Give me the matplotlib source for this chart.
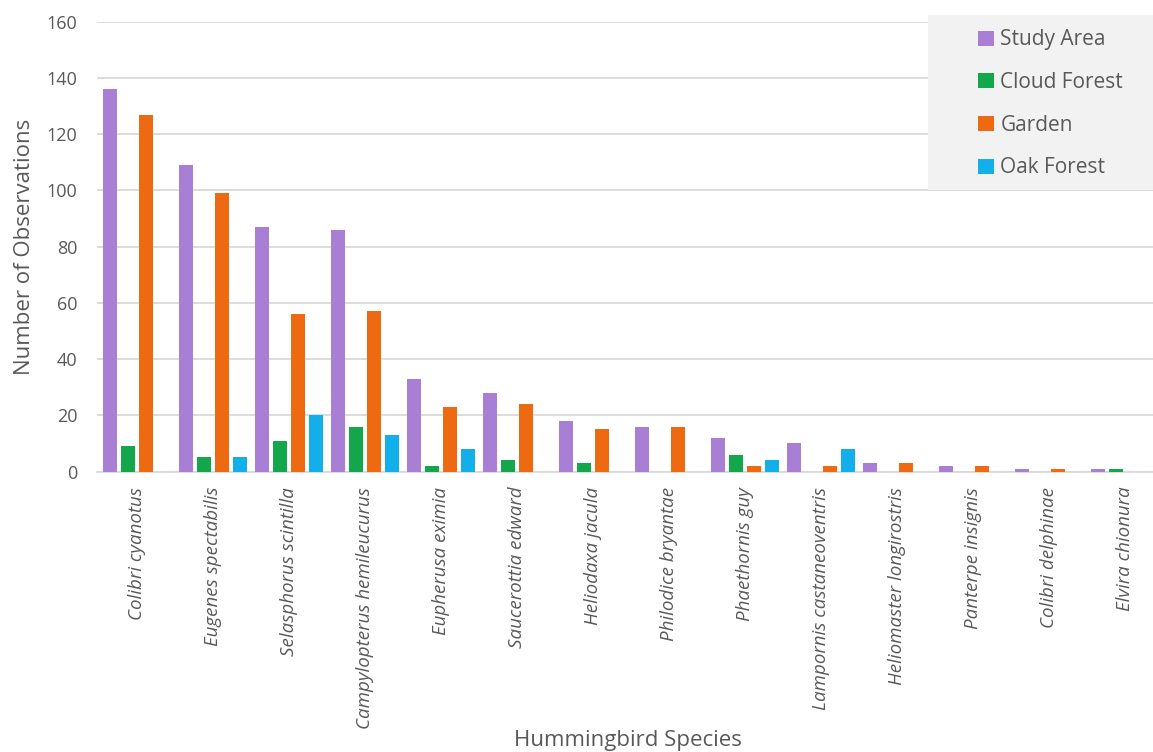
import matplotlib
matplotlib.use('Agg')
from matplotlib import pyplot as plt
from matplotlib.patches import Rectangle
import numpy as np

plt.rcParams['font.family'] = ['Open Sans', 'DejaVu Sans']

species = ['Colibri cyanotus', 'Eugenes spectabilis', 'Selasphorus scintilla',
           'Campylopterus hemileucurus', 'Eupherusa eximia', 'Saucerottia edward',
           'Heliodaxa jacula', 'Philodice bryantae', 'Phaethornis guy',
           'Lampornis castaneoventris', 'Heliomaster longirostris',
           'Panterpe insignis', 'Colibri delphinae', 'Elvira chionura']

study_area = [136, 109, 87, 86, 33, 28, 18, 16, 12, 10, 3, 2, 1, 1]
cloud_forest = [9, 5, 11, 16, 2, 4, 3, 0, 6, 0, 0, 0, 0, 1]
garden = [127, 99, 56, 57, 23, 24, 15, 16, 2, 2, 3, 2, 1, 0]
oak_forest = [0, 5, 20, 13, 8, 0, 0, 0, 4, 8, 0, 0, 0, 0]

series = [('Study Area', study_area, '#a97fd6'),
          ('Cloud Forest', cloud_forest, '#14a64b'),
          ('Garden', garden, '#ee6a12'),
          ('Oak Forest', oak_forest, '#12afea')]

fig = plt.figure(figsize=(11.53, 7.52), dpi=100)
ax = fig.add_axes([0.084, 0.373, 0.916, 0.598])

x = np.arange(len(species))
step = 0.237
width = 0.185
for i, (name, vals, color) in enumerate(series):
    ax.bar(x + (i - 1.5) * step, vals, width, color=color, label=name, zorder=3)

ax.set_ylim(0, 160)
ax.set_yticks(range(0, 161, 20))
ax.set_xlim(-0.53, 13.37)
ax.set_xticks(x)
ax.set_xticklabels(species, rotation=90, style='italic', fontsize=13.5,
                   color='#595959', va='top', ha='center')
ax.tick_params(axis='x', length=0, pad=11)
ax.tick_params(axis='y', length=0, pad=14, labelsize=13, labelcolor='#595959')
ax.grid(axis='y', color='#d9d9d9', linewidth=1.3, zorder=0)
for s in ['top', 'right', 'left']:
    ax.spines[s].set_visible(False)
ax.spines['bottom'].set_color('#d9d9d9')
ax.spines['bottom'].set_linewidth(1.3)

ax.set_ylabel('Number of Observations', fontsize=16, color='#595959', labelpad=8)
fig.text(628 / 1153, 6 / 752, 'Hummingbird Species', fontsize=16, color='#595959',
         ha='center', va='baseline')

# grey panel behind the legend
fig.patches.append(Rectangle((928 / 1153, 1 - 190 / 752), 225 / 1153, 175 / 752,
                             transform=fig.transFigure, facecolor='#f2f2f2',
                             edgecolor='none', zorder=2))
fig.legend(loc='upper left', bbox_to_anchor=(968 / 1153, 1 - 19 / 752),
           frameon=False, fontsize=15, labelcolor='#595959',
           handlelength=0.75, handleheight=0.75, handletextpad=0.3,
           labelspacing=1.04, borderpad=0)

fig.savefig('out.png', dpi=100)
